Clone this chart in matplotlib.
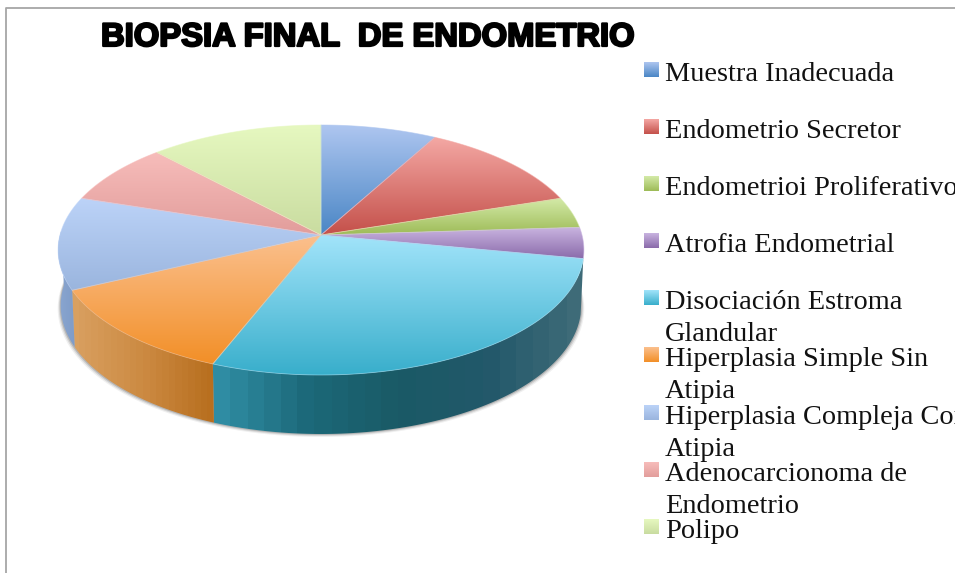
import numpy as np
import matplotlib
matplotlib.use('Agg')
import matplotlib.pyplot as plt
import matplotlib.patheffects as pe
from matplotlib.colors import LinearSegmentedColormap
from matplotlib.patches import Polygon

title = 'BIOPSIA FINAL  DE ENDOMETRIO'
categories = ['Muestra Inadecuada', 'Endometrio Secretor', 'Endometrioi Proliferativo',
              'Atrofia Endometrial', 'Disociación Estroma\nGlandular', 'Hiperplasia Simple Sin\nAtipia',
              'Hiperplasia Compleja Con\nAtipia', 'Adenocarcionoma de\nEndometrio', 'Polipo']
values = [2, 3, 1, 1, 7, 3, 3, 2, 3]

top_colors = ['#aec6f0', '#f4a8a4', '#d4eaa8', '#c9b4e0', '#a2e4fa', '#fbc08e', '#bcd3f8', '#f7bdbb', '#e6f8c0']
low_colors = ['#4a86c5', '#c4504a', '#9dbb57', '#8a6aaa', '#38aecb', '#f28f27', '#9ab5de', '#e29d9b', '#c9dca0']
# de izquierda a derecha
wall_colors = {4: ['#2f8ca3', '#1c6878', '#1a5a66', '#22586a', '#3e6b78'],
               5: ['#d9a060', '#cc8a42', '#b86f1f'],
               6: ['#8aa6d0', '#7f9cc8']}

CX, CY = 321, 235
R, RY, K = 261, 123.2, 0.12
WALL = 55


def rim(t, low=False):
    x, y = np.sin(t), np.cos(t)
    d = 1 + K * y
    if low:
        return CX + 0.99 * R * x / d, CY - RY * y / d + WALL - 4 * y
    return CX + R * x / d, CY - RY * y / d


def vgrad(ax, c1, c2, x0, x1, y0, y1, clip, z):
    cmap = LinearSegmentedColormap.from_list('g', [c1, c2])
    im = ax.imshow(np.linspace(0, 1, 256).reshape(-1, 1), cmap=cmap, aspect='auto',
                   extent=(x0, x1, y1, y0), zorder=z, interpolation='bilinear')
    if clip is not None:
        im.set_clip_path(Polygon(clip, closed=True, transform=ax.transData))


fig = plt.figure(figsize=(9.55, 5.73), dpi=100)
ax = fig.add_axes([0, 0, 1, 1])

edges = np.cumsum([0] + values) / sum(values) * 2 * np.pi

# sombra bajo la torta
tt = np.linspace(np.radians(70), np.radians(290), 300)
for grow, a in [(3, 0.08), (2, 0.14), (1, 0.22)]:
    sx, sy = rim(tt, low=True)
    sx = CX + (sx - CX) * (1 + grow / R)
    sy = sy + grow
    ax.add_patch(Polygon(np.c_[sx, sy], closed=True, fc='#404040', ec='none', alpha=a, zorder=1))

# paredes
for i in wall_colors:
    t = np.linspace(max(edges[i], np.radians(100)), min(edges[i + 1], np.radians(272)), 120)
    xa, ya = rim(t)
    xb, yb = rim(t, low=True)
    pts = np.r_[np.c_[xa, ya], np.c_[xb, yb][::-1]]
    cmap = LinearSegmentedColormap.from_list('w', wall_colors[i], N=22)
    im = ax.imshow(np.linspace(0, 1, 256).reshape(1, -1), cmap=cmap, aspect='auto',
                   extent=(pts[:, 0].min(), pts[:, 0].max(), pts[:, 1].max(), pts[:, 1].min()),
                   zorder=2, interpolation='nearest')
    im.set_clip_path(Polygon(pts, closed=True, transform=ax.transData))

# tapa
for i in range(len(values)):
    t = np.linspace(edges[i], edges[i + 1], 150)
    xa, ya = rim(t)
    pts = np.r_[[[CX, CY]], np.c_[xa, ya]]
    vgrad(ax, top_colors[i], low_colors[i], pts[:, 0].min(), pts[:, 0].max(),
          pts[:, 1].min(), pts[:, 1].max(), pts, 3)
    ax.add_patch(Polygon(pts, closed=True, fc='none', ec=top_colors[i], lw=0.6, alpha=0.6, zorder=4))

# leyenda
for i, name in enumerate(categories):
    y0 = 62 + 57.1 * i
    vgrad(ax, top_colors[i], low_colors[i], 644, 659, y0, y0 + 15, None, 5)
    lines = name.split('\n')
    ax.text(665, y0 + 19, lines[0], fontsize=20.4, family='Liberation Serif', color='#111111', va='baseline', zorder=6)
    if len(lines) > 1:
        ax.text(665, y0 + 51, lines[1], fontsize=20.4, family='Liberation Serif', color='#111111', va='baseline', zorder=6)

ax.text(101, 46, title, fontsize=23.6, family='Liberation Sans', weight='bold', color='black', va='baseline',
        path_effects=[pe.withStroke(linewidth=1.6, foreground='black')], zorder=6)

# marco
ax.plot([6, 6, 955], [573, 7.5, 7.5], color='#a6a6a6', lw=1.3, zorder=7)

ax.set_xlim(0, 955)
ax.set_ylim(573, 0)
ax.axis('off')
fig.savefig('out.png', dpi=100)
